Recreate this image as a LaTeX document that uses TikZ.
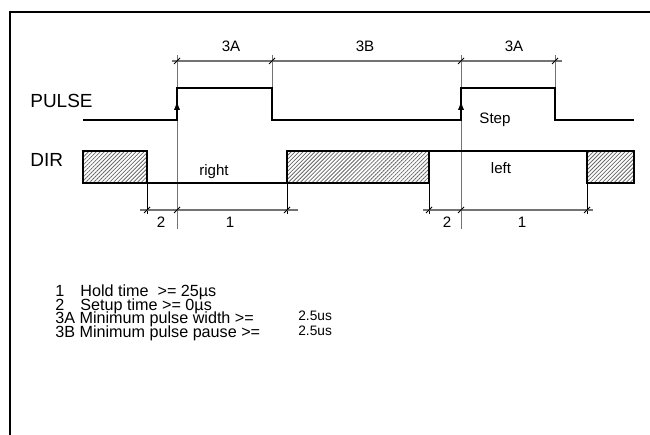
\documentclass[tikz,border=0pt]{standalone}
\usepackage{fontspec}
\setmainfont{Liberation Sans}
\usetikzlibrary{arrows.meta, patterns.meta, positioning}

\begin{document}
\begin{tikzpicture}[x=0.02cm, y=-0.02cm,
  sig/.style={line width=1.3pt, line join=miter},
  hatchbox/.style={line width=1.3pt,
                   pattern={Lines[angle=45, distance=1.6pt, line width=0.45pt]},
                   pattern color=black!60},
  extg/.style={draw=black!55, line width=0.5pt},
  extb/.style={draw=black, line width=0.45pt},
  dimln/.style={draw=black!55, line width=0.6pt},
  tick/.style={draw=black, line width=0.6pt},
  edge/.style={-{Latex[length=5pt, width=3.5pt]}, line width=0.8pt},
  lbl/.style={font=\fontsize{8.6}{10}\selectfont, inner sep=0pt},
  signame/.style={font=\fontsize{10.8}{12}\selectfont, inner sep=0pt, anchor=west},
  legend/.style={font=\fontsize{9.2}{11}\selectfont, inner sep=0pt, anchor=base west},
  legval/.style={font=\fontsize{7.8}{9}\selectfont, inner sep=0pt, anchor=base west}
]
  \useasboundingbox (0,0) rectangle (650,435);

  % Frame (only top and left edge visible)
  \draw[line width=1.2pt] (10,435) -- (10,12) -- (650,12);

  % Signal names
  \node[signame] (pulse) at (30,101) {PULSE};
  \node[signame] (dir)   at (30,160) {DIR};

  % Extension lines
  \foreach \x/\yb in {177/229, 272/88, 461/229, 555/88}
    \draw[extg] (\x,55) -- (\x,\yb);
  \foreach \x in {147, 287, 429, 587}
    \draw[extb] (\x,183) -- (\x,214);

  % PULSE waveform
  \draw[sig] (83,120) -- (177,120) -- (177,88) -- (272,88) -- (272,120)
             -- (461,120) -- (461,88) -- (555,88) -- (555,120) -- (634,120);
  \draw[edge] (177,112) -- (177,101);
  \draw[edge] (461,112) -- (461,101);

  % DIR waveform
  \draw[hatchbox] (83,151) rectangle (147,183);
  \draw[hatchbox] (287,151) rectangle (429,183);
  \draw[hatchbox] (587,151) rectangle (634,183);
  \draw[sig] (130,183) -- (287,183);
  \draw[sig] (429,151) -- (587,151);

  % Dimension lines
  \draw[dimln] (172,61) -- (562,61);
  \draw[dimln] (140,210) -- (298,210);
  \draw[dimln] (423,210) -- (593,210);
  \foreach \x/\y in {177/61, 272/61, 461/61, 555/61,
                     147/210, 177/210, 287/210, 429/210, 461/210, 587/210}
    \draw[tick] (\x,\y) ++(-3,3) -- ++(6,-6);

  % Dimension labels
  \node[lbl] (d3a)  at (231,46)  {3A};
  \node[lbl] (d3b)  at (365,46)  {3B};
  \node[lbl] (d3a2) at (514,46)  {3A};
  \node[lbl] (d2)   at (161,222) {2};
  \node[lbl] (d1)   at (230,222) {1};
  \node[lbl] (d2b)  at (447,222) {2};
  \node[lbl] (d1b)  at (522,222) {1};

  % Level labels
  \node[lbl] (step)  at (495,120) {Step};
  \node[lbl] (right) at (214,172) {right};
  \node[lbl] (left)  at (501,168) {left};

  % Legend
  \node[legend] (leg1n) at (55,297)   {1};
  \node[legend] (leg1)  at (80,297)   {Hold time\ \ >= 25µs};
  \node[legend] (leg2n) at (55,310.5) {2};
  \node[legend] (leg2)  at (80,310.5) {Setup time >= 0µs};
  \node[legend] (leg3)  at (55,324)   {3A Minimum pulse width >=};
  \node[legend] (leg4)  at (55,337.5) {3B Minimum pulse pause >=};
  \node[legval] (val3)  at (298,321)  {2.5us};
  \node[legval] (val4)  at (298,336)  {2.5us};
\end{tikzpicture}
\end{document}
